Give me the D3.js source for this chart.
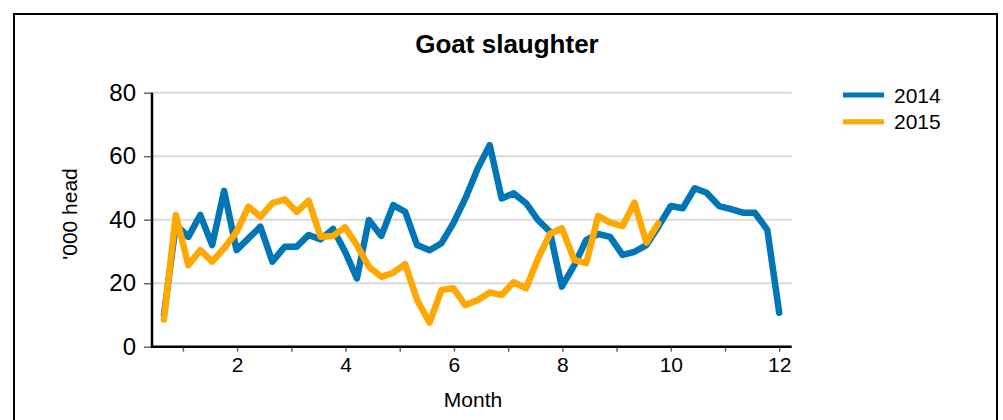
<!DOCTYPE html>
<html>
<head>
<meta charset="utf-8">
<title>Goat slaughter</title>
<script src="https://d3js.org/d3.v7.min.js"></script>
<style>
  body { margin: 0; background: white; font-family: Arial, "Liberation Sans", sans-serif; }
  .tick text { font-family: Arial, "Liberation Sans", sans-serif; fill: #000; }
</style>
</head>
<body>
<svg id="chart" width="1003" height="420"></svg>
<script>
// weekly observations, position on the month axis
var weekMonth = [0.65, 0.87, 1.10, 1.32, 1.54, 1.76, 1.99, 2.21, 2.43, 2.65,
                 2.88, 3.10, 3.32, 3.54, 3.77, 3.99, 4.21, 4.43, 4.66, 4.88,
                 5.10, 5.32, 5.55, 5.77, 5.99, 6.21, 6.44, 6.66, 6.88, 7.10,
                 7.33, 7.55, 7.77, 7.99, 8.22, 8.44, 8.66, 8.88, 9.11, 9.33,
                 9.55, 9.77, 10.00, 10.22, 10.44, 10.66, 10.89, 11.11, 11.33, 11.55,
                 11.78, 12.00];

// '000 head
var goats2014 = [10.0, 38.5, 34.6, 41.5, 32.0, 49.1, 30.4, 34.1, 37.8, 26.8,
                 31.5, 31.5, 35.2, 33.8, 37.1, 30.0, 21.5, 39.9, 34.9, 44.6,
                 42.5, 32.0, 30.4, 32.6, 38.9, 46.7, 56.2, 63.5, 46.7, 48.3,
                 45.2, 39.9, 36.2, 18.9, 25.7, 33.6, 35.5, 34.6, 28.9, 29.9,
                 32.0, 37.8, 44.3, 43.6, 49.9, 48.5, 44.3, 43.3, 42.2, 42.2,
                 36.8, 10.7];

var goats2015 = [8.6, 41.5, 25.7, 30.4, 26.8, 31.0, 36.2, 44.1, 40.9, 45.2,
                 46.4, 42.5, 46.0, 34.6, 34.9, 37.6, 32.0, 25.2, 22.0, 23.3,
                 26.0, 14.7, 7.6, 17.9, 18.4, 13.1, 14.7, 17.1, 16.3, 20.3,
                 18.4, 27.8, 35.5, 37.3, 27.3, 26.3, 41.2, 39.1, 38.0, 45.4,
                 32.8, 38.9];

var seriesNames = ['2014', '2015'];
var seriesColors = ['#0076b6', '#ffa800'];
var yTicks = [0, 20, 40, 60, 80];
var xTicks = [1, 2, 3, 4, 5, 6, 7, 8, 9, 10, 11, 12];

var series = [goats2014, goats2015].map(function(vals, i) {
  return {
    name: seriesNames[i],
    color: seriesColors[i],
    points: vals.map(function(v, j) { return { m: weekMonth[j], v: v }; })
  };
});

var svg = d3.select('#chart');

// outer frame
svg.append('rect')
  .attr('x', 14).attr('y', 14)
  .attr('width', 983).attr('height', 420)
  .attr('fill', 'none')
  .attr('stroke', '#000')
  .attr('stroke-width', 2);

svg.append('text')
  .attr('x', 507).attr('y', 53)
  .attr('text-anchor', 'middle')
  .style('font-size', '26px')
  .style('font-weight', 'bold')
  .text('Goat slaughter');

var x = d3.scaleLinear().domain([0.43, 12.23]).range([152, 791.7]);
var y = d3.scaleLinear().domain([0, 80]).range([346.7, 92.7]);

// gridlines
svg.append('g')
  .selectAll('line')
  .data(yTicks.filter(function(t) { return t > 0; }))
  .enter()
  .append('line')
  .attr('x1', x.range()[0]).attr('x2', x.range()[1])
  .attr('y1', function(d) { return y(d); })
  .attr('y2', function(d) { return y(d); })
  .attr('stroke', '#d9d9d9')
  .attr('stroke-width', 2);

// y axis
var yAxis = d3.axisLeft(y).tickValues(yTicks).tickSize(8).tickPadding(8);
var gy = svg.append('g')
  .attr('transform', 'translate(' + x.range()[0] + ',0)')
  .call(yAxis);
gy.select('.domain').remove();
gy.selectAll('.tick line').attr('stroke', '#666').attr('stroke-width', 1.5);
gy.selectAll('.tick text').style('font-size', '24px');

// x axis
var xAxis = d3.axisBottom(x).tickValues(xTicks).tickSize(5).tickPadding(5)
  .tickFormat(function(d) { return d % 2 === 0 ? d : ''; });
var gx = svg.append('g')
  .attr('transform', 'translate(0,' + y(0) + ')')
  .call(xAxis);
gx.select('.domain').remove();
gx.selectAll('.tick line').attr('stroke', '#666').attr('stroke-width', 1.5);
gx.selectAll('.tick text').style('font-size', '21px');

// axis lines
svg.append('line')
  .attr('x1', x.range()[0]).attr('x2', x.range()[1])
  .attr('y1', y(0)).attr('y2', y(0))
  .attr('stroke', '#000').attr('stroke-width', 2.5);
svg.append('line')
  .attr('x1', x.range()[0]).attr('x2', x.range()[0])
  .attr('y1', y.range()[1]).attr('y2', y(0) + 1.2)
  .attr('stroke', '#000').attr('stroke-width', 2.5);

// axis titles
svg.append('text')
  .attr('transform', 'translate(77,214) rotate(-90)')
  .attr('text-anchor', 'middle')
  .style('font-size', '21px')
  .text("'000 head");

svg.append('text')
  .attr('x', 473).attr('y', 407)
  .attr('text-anchor', 'middle')
  .style('font-size', '21px')
  .text('Month');

// lines
var line = d3.line()
  .x(function(d) { return x(d.m); })
  .y(function(d) { return y(d.v); });

svg.append('g')
  .selectAll('path')
  .data(series)
  .enter()
  .append('path')
  .attr('d', function(d) { return line(d.points); })
  .attr('fill', 'none')
  .attr('stroke', function(d) { return d.color; })
  .attr('stroke-width', 6.5)
  .attr('stroke-linejoin', 'round')
  .attr('stroke-linecap', 'round');

// legend
var legend = svg.append('g')
  .selectAll('g')
  .data(series)
  .enter()
  .append('g')
  .attr('transform', function(d, i) { return 'translate(843,' + (95 + i * 26.8) + ')'; });

legend.append('line')
  .attr('x1', 0).attr('x2', 41)
  .attr('y1', 0).attr('y2', 0)
  .attr('stroke', function(d) { return d.color; })
  .attr('stroke-width', 5);

legend.append('text')
  .attr('x', 51).attr('y', 7.5)
  .style('font-size', '21px')
  .text(function(d) { return d.name; });
</script>
</body>
</html>
